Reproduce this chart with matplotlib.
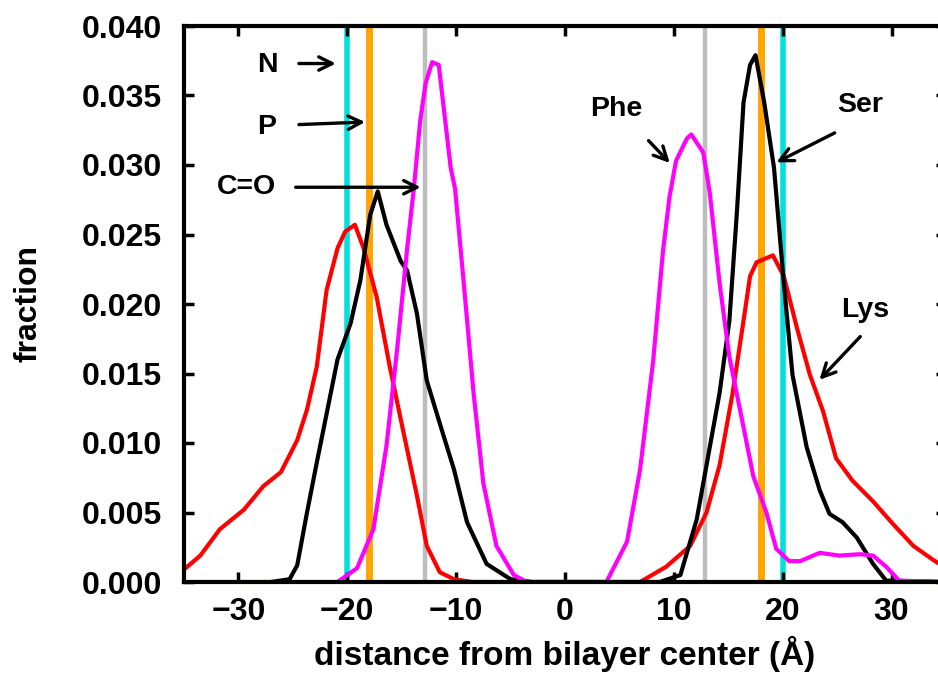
import matplotlib
matplotlib.use('Agg')
import matplotlib.pyplot as plt

plt.rcParams['font.family'] = ['Liberation Sans', 'DejaVu Sans']
plt.rcParams['font.weight'] = 'bold'

# Lys (red), Ser (black), Phe (magenta) distributions
lys_x = [-35.0, -33.5, -31.7, -29.5, -27.7, -26.1, -24.6, -23.7, -22.8, -21.9, -20.9, -20.2, -19.3,
         -18.5, -17.3, -16.1, -14.9, -13.6, -12.7, -11.5, -10.2, -8.5, 0.0, 6.9, 9.3, 11.5, 13.0,
         14.2, 15.4, 16.4, 17.0, 17.6, 19.1, 20.1, 21.3, 22.5, 23.7, 24.9, 26.4, 28.3, 30.1, 32.0,
         33.8, 35.0]
lys_y = [0.0009, 0.0019, 0.0038, 0.0052, 0.0069, 0.0079, 0.0102, 0.0124, 0.0155, 0.0210, 0.0240,
         0.0252, 0.0257, 0.0240, 0.0205, 0.0155, 0.0110, 0.0062, 0.0026, 0.0007, 0.0002, 0.0, 0.0,
         0.0, 0.0011, 0.0026, 0.0050, 0.0084, 0.0136, 0.0188, 0.0220, 0.0230, 0.0235, 0.0220,
         0.0183, 0.0149, 0.0123, 0.0089, 0.0073, 0.0058, 0.0042, 0.0026, 0.0016, 0.0010]

ser_x = [-27.0, -25.3, -24.6, -23.7, -22.8, -21.9, -20.9, -19.7, -18.8, -17.9, -17.2, -16.4, -15.1,
         -14.5, -13.6, -12.7, -11.5, -10.2, -9.0, -7.2, -5.0, -3.0, 0.0, 8.7, 10.6, 12.1, 13.0,
         14.2, 15.1, 15.8, 16.4, 17.0, 17.5, 18.3, 19.2, 20.1, 20.9, 22.2, 23.4, 24.3, 25.5, 26.8,
         28.3, 29.5, 35.0]
ser_y = [0.0, 0.0002, 0.0012, 0.0050, 0.0086, 0.0121, 0.0160, 0.0186, 0.0217, 0.0264, 0.0281,
         0.0257, 0.0231, 0.0224, 0.0193, 0.0145, 0.0114, 0.0081, 0.0043, 0.0013, 0.0002, 0.0, 0.0,
         0.0, 0.0005, 0.0045, 0.0084, 0.0136, 0.0188, 0.0267, 0.0345, 0.0372, 0.0379, 0.0345,
         0.0298, 0.0215, 0.0149, 0.0097, 0.0066, 0.0049, 0.0043, 0.0032, 0.0013, 0.0001, 0.0]

phe_x = [-35.0, -22.0, -20.9, -19.1, -17.6, -16.4, -15.4, -14.5, -13.9, -13.3, -12.8, -12.2, -11.6,
         -10.5, -10.1, -9.3, -8.4, -7.5, -6.3, -4.7, -3.5, 0.0, 3.8, 5.7, 6.9, 8.1, 9.0, 9.6, 10.2,
         11.2, 11.6, 12.7, 13.3, 14.2, 15.1, 16.1, 17.3, 18.5, 19.4, 20.6, 21.6, 23.4, 25.2, 27.1,
         28.3, 29.5, 30.7, 35.0]
phe_y = [0.0, 0.0, 0.0, 0.0010, 0.0038, 0.0098, 0.0169, 0.0240, 0.0282, 0.0332, 0.0359, 0.0374,
         0.0372, 0.0298, 0.0283, 0.0215, 0.0136, 0.0071, 0.0026, 0.0005, 0.0, 0.0, 0.0, 0.0029,
         0.0081, 0.0159, 0.0238, 0.0277, 0.0303, 0.0319, 0.0322, 0.0309, 0.0280, 0.0215, 0.0162,
         0.0123, 0.0076, 0.0050, 0.0024, 0.0015, 0.0015, 0.0021, 0.0019, 0.0020, 0.0019, 0.0011,
         0.0001, 0.0]

# lipid group positions (N, P, C=O) on both leaflets
n_pos = [-20.0, 20.0]
p_pos = [-18.0, 18.0]
co_pos = [-12.9, 12.9]

x_ticks = [-30, -20, -10, 0, 10, 20, 30]
y_ticks = [0.000, 0.005, 0.010, 0.015, 0.020, 0.025, 0.030, 0.035, 0.040]

fig = plt.figure(figsize=(9.38, 6.85), dpi=100)
ax = fig.add_axes([184 / 938, 1 - 582 / 685, 762 / 938, 556 / 685])

for xv in n_pos:
    ax.axvline(xv, color='#00e0e0', lw=4, zorder=1)
for xv in p_pos:
    ax.axvline(xv, color='#ffa500', lw=5, zorder=1)
for xv in co_pos:
    ax.axvline(xv, color='#bdbdbd', lw=3.2, zorder=1)

ax.plot(lys_x, lys_y, color='#ff0000', lw=3, zorder=3)
ax.plot(ser_x, ser_y, color='black', lw=3, zorder=3)
ax.plot(phe_x, phe_y, color='#ff00ff', lw=3, zorder=3)

ax.set_xlim(-35, 35)
ax.set_ylim(0, 0.040)
ax.set_xticks(x_ticks)
ax.set_xticklabels([str(t).replace('-', '\u2212') for t in x_ticks])
ax.set_yticks(y_ticks)
ax.set_yticklabels(['%.3f' % t for t in y_ticks])
ax.tick_params(direction='in', length=7, width=2.5, top=True, right=True, labelsize=23)
ax.tick_params(axis='x', pad=11)
ax.tick_params(axis='y', pad=16)
for s in ax.spines.values():
    s.set_linewidth(3)
    s.set_zorder(5)

ax.set_xlabel('distance from bilayer center (\u00c5)', fontsize=24, fontweight='bold', labelpad=6)
ax.set_ylabel('fraction', fontsize=23, fontweight='bold', labelpad=27)

arrow = dict(arrowstyle='->', color='black', lw=2.4, mutation_scale=24)
fs = 20.5
# labels of the lipid groups on the left leaflet
ax.text(-27.3, 0.0372, 'N', fontsize=fs, fontweight='bold', ha='center', va='center')
ax.annotate('', xy=(-20.8, 0.0373), xytext=(-24.7, 0.0373), arrowprops=arrow)
ax.text(-27.4, 0.0327, 'P', fontsize=fs, fontweight='bold', ha='center', va='center')
ax.annotate('', xy=(-18.1, 0.0331), xytext=(-24.7, 0.0329), arrowprops=arrow)
ax.text(-29.3, 0.0284, 'C=O', fontsize=fs, fontweight='bold', ha='center', va='center')
ax.annotate('', xy=(-13.0, 0.0284), xytext=(-25.0, 0.0284), arrowprops=arrow)

# residue labels
ax.annotate('', xy=(9.8, 0.0300), xytext=(7.5, 0.0319), arrowprops=arrow)
ax.text(4.7, 0.0340, 'Phe', fontsize=fs, fontweight='bold', ha='center', va='center')
ax.annotate('', xy=(19.2, 0.0301), xytext=(25.0, 0.0324), arrowprops=arrow)
ax.text(27.1, 0.0343, 'Ser', fontsize=fs, fontweight='bold', ha='center', va='center')
ax.annotate('', xy=(23.2, 0.0144), xytext=(27.3, 0.0178), arrowprops=arrow)
ax.text(27.6, 0.0196, 'Lys', fontsize=fs, fontweight='bold', ha='center', va='center')

fig.savefig('out.png', dpi=100)
